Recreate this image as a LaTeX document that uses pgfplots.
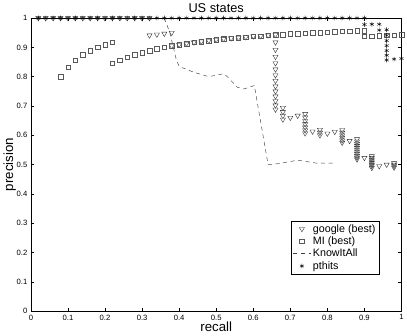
\documentclass[border=0pt]{standalone}
\usepackage{fontspec}
\setmainfont{Liberation Sans}
\usepackage{pgfplots}
\pgfplotsset{compat=1.18}

\begin{document}
\begin{tikzpicture}
\begin{axis}[
    scale only axis,
    width=363pt,
    height=287pt,
    xmin=0, xmax=1,
    ymin=0, ymax=1,
    xtick={0,0.1,...,1.01},
    ytick={0,0.1,...,1.01},
    /pgf/number format/assume math mode=true,
    tick label style={font=\fontsize{7.5}{9}\selectfont},
    major tick length=3pt,
    tick style={black, line width=0.4pt},
    axis line style={line width=0.5pt},
    title={US states},
    title style={font=\fontsize{12.5}{14}\selectfont, yshift=-4pt},
    xlabel={recall},
    ylabel={precision},
    label style={font=\fontsize{13}{15}\selectfont},
    xlabel style={yshift=5pt},
    ylabel style={yshift=-6pt},
    legend cell align=left,
    legend style={at={(0.94,0.125)}, anchor=south east, font=\fontsize{10.5}{12}\selectfont,
        draw=black, line width=0.4pt, inner sep=1.5pt, row sep=-1pt},
]
% google (best)
\addplot[only marks, mark=triangle, mark options={rotate=180, line width=0.35pt}, mark size=2.9pt, black!85] coordinates {
(0.02,1)(0.04,1)(0.06,1)(0.08,1)(0.10,1)(0.12,1)(0.14,1)(0.16,1)
(0.18,1)(0.20,1)(0.22,1)(0.24,1)(0.26,1)(0.28,1)(0.30,1)(0.32,1)
(0.32,0.941)(0.34,0.944)(0.36,0.947)(0.38,0.950)(0.38,0.905)
(0.40,0.909)(0.42,0.913)(0.44,0.917)(0.46,0.920)(0.48,0.923)(0.50,0.926)
(0.52,0.929)(0.54,0.931)(0.56,0.933)(0.58,0.935)(0.60,0.938)(0.62,0.939)
(0.64,0.941)(0.66,0.943)
(0.66,0.917)(0.66,0.892)(0.66,0.868)(0.66,0.846)(0.66,0.825)(0.66,0.805)
(0.66,0.786)(0.66,0.767)(0.66,0.750)(0.66,0.733)(0.66,0.717)(0.66,0.702)(0.66,0.688)
(0.68,0.694)(0.68,0.680)(0.68,0.667)(0.68,0.654)
(0.70,0.660)(0.72,0.667)(0.74,0.673)(0.74,0.661)(0.74,0.649)(0.74,0.638)
(0.74,0.627)(0.74,0.617)(0.74,0.607)
(0.76,0.613)(0.78,0.619)(0.78,0.609)(0.78,0.600)
(0.80,0.606)(0.82,0.612)(0.84,0.618)(0.84,0.609)(0.84,0.600)(0.84,0.592)
(0.84,0.583)(0.84,0.575)
(0.86,0.581)(0.88,0.587)(0.88,0.579)(0.88,0.571)(0.88,0.564)(0.88,0.557)
(0.88,0.550)(0.88,0.543)(0.88,0.537)(0.88,0.530)(0.88,0.524)(0.88,0.518)
(0.90,0.523)(0.92,0.529)(0.92,0.523)(0.92,0.517)(0.92,0.511)(0.92,0.505)
(0.92,0.500)(0.92,0.495)(0.92,0.489)
(0.94,0.495)(0.96,0.500)(0.98,0.505)(0.98,0.500)(0.98,0.495)(0.98,0.490)
};
\addlegendentry{google (best)}
% MI (best)
\addplot[only marks, mark=square, mark options={line width=0.35pt}, mark size=2.2pt, black!65] coordinates {
(0.08,0.800)(0.10,0.833)(0.12,0.857)(0.14,0.875)(0.16,0.889)(0.18,0.900)
(0.20,0.909)(0.22,0.917)(0.22,0.846)
(0.24,0.857)(0.26,0.867)(0.28,0.875)(0.30,0.882)(0.32,0.889)(0.34,0.895)
(0.36,0.900)(0.38,0.905)(0.40,0.909)(0.42,0.913)(0.44,0.917)(0.46,0.920)
(0.48,0.923)(0.50,0.926)(0.52,0.929)(0.54,0.931)(0.56,0.933)(0.58,0.935)
(0.60,0.938)(0.62,0.939)(0.64,0.941)(0.66,0.943)(0.68,0.944)(0.70,0.946)
(0.72,0.947)(0.74,0.949)(0.76,0.950)(0.78,0.951)(0.80,0.952)(0.82,0.953)
(0.84,0.955)(0.86,0.956)(0.88,0.957)(0.90,0.957)(0.90,0.938)
(0.92,0.939)(0.94,0.940)(0.96,0.941)(0.98,0.942)(1.00,0.943)
};
\addlegendentry{MI (best)}
% KnowItAll
\addplot[black!75, line width=0.45pt, dash pattern=on 4pt off 3.5pt] coordinates {
(0.36,1.000)(0.375,0.950)(0.392,0.860)(0.40,0.835)(0.44,0.815)(0.48,0.800)
(0.52,0.810)(0.53,0.800)(0.557,0.764)(0.575,0.758)(0.603,0.770)
(0.64,0.500)(0.667,0.503)(0.72,0.515)(0.77,0.505)(0.82,0.505)
};
\addlegendentry{KnowItAll}
% pthits
\addplot[only marks, mark=asterisk, mark size=2.3pt, mark options={line width=0.4pt}, black] coordinates {
(0.02,1)(0.04,1)(0.06,1)(0.08,1)(0.10,1)(0.12,1)(0.14,1)(0.16,1)(0.18,1)
(0.20,1)(0.22,1)(0.24,1)(0.26,1)(0.28,1)(0.30,1)(0.32,1)(0.34,1)(0.36,1)
(0.38,1)(0.40,1)(0.42,1)(0.44,1)(0.46,1)(0.48,1)(0.50,1)(0.52,1)(0.54,1)
(0.56,1)(0.58,1)(0.60,1)(0.62,1)(0.64,1)(0.66,1)(0.68,1)(0.70,1)(0.72,1)
(0.74,1)(0.76,1)(0.78,1)(0.80,1)(0.82,1)(0.84,1)(0.86,1)(0.88,1)(0.90,1)
(0.90,0.978)(0.92,0.979)(0.94,0.979)(0.94,0.959)
(0.96,0.960)(0.96,0.941)(0.96,0.923)(0.96,0.906)(0.96,0.889)(0.96,0.873)(0.96,0.857)
(0.98,0.860)(1.00,0.862)
};
\addlegendentry{pthits}
\end{axis}
\end{tikzpicture}
\end{document}
